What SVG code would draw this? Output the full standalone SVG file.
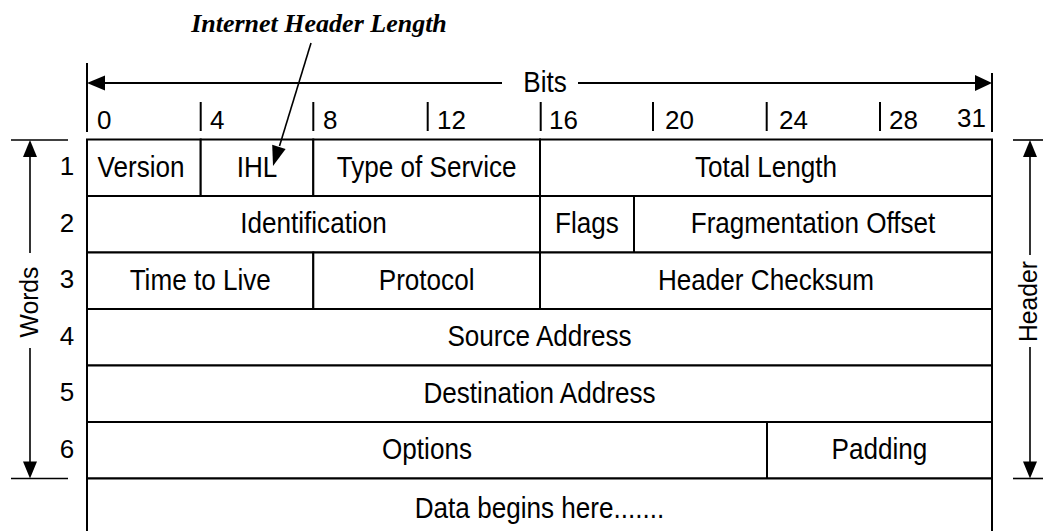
<svg xmlns="http://www.w3.org/2000/svg" width="1043" height="531" viewBox="0 0 1043 531">
<style>
.bg{fill:#fff}
.cell{fill:#fff;stroke:#000;stroke-width:2}
.t{font-family:"Liberation Sans",Arial,sans-serif;font-size:29px;fill:#000;text-anchor:middle}
.b{font-family:"Liberation Sans",Arial,sans-serif;font-size:26px;fill:#000;text-anchor:start}
.n{font-family:"Liberation Sans",Arial,sans-serif;font-size:26px;fill:#000;text-anchor:middle}
.ax{font-family:"Liberation Sans",Arial,sans-serif;font-size:26px;fill:#000;text-anchor:middle}
.title{font-family:"Liberation Serif","Times New Roman",serif;font-size:26px;font-weight:bold;font-style:italic;fill:#000;text-anchor:middle}
.ln{stroke:#000;stroke-width:2;fill:none}
.thin{stroke:#000;stroke-width:1.6;fill:none}
.ah{fill:#000;stroke:none}
</style>
<rect class="bg" x="0" y="0" width="1043" height="531"/>

<g id="title">
<text class="title" x="319" y="32">Internet Header Length</text>
</g>

<g id="bit-scale">
<line class="ln" x1="87" y1="63" x2="87" y2="132"/>
<line class="ln" x1="992" y1="73" x2="992" y2="132"/>
<g class="ticks">
<line class="ln" x1="200.7" y1="102" x2="200.7" y2="131"/>
<line class="ln" x1="313.3" y1="102" x2="313.3" y2="131"/>
<line class="ln" x1="427.7" y1="102" x2="427.7" y2="131"/>
<line class="ln" x1="540.7" y1="102" x2="540.7" y2="131"/>
<line class="ln" x1="653" y1="102" x2="653" y2="131"/>
<line class="ln" x1="766.7" y1="102" x2="766.7" y2="131"/>
<line class="ln" x1="880" y1="102" x2="880" y2="131"/>
</g>
<text class="b" x="97" y="128.5">0</text>
<text class="b" x="210" y="128.5">4</text>
<text class="b" x="323" y="128.5">8</text>
<text class="b" x="437" y="128.5">12</text>
<text class="b" x="549" y="128.5">16</text>
<text class="b" x="665" y="128.5">20</text>
<text class="b" x="779" y="128.5">24</text>
<text class="b" x="889" y="128.5">28</text>
<text class="b" x="957" y="127">31</text>
<text class="t" transform="translate(545,92) scale(0.9 1)">Bits</text>
</g>

<g id="row-numbers">
<text class="n" x="67" y="175">1</text>
<text class="n" x="67" y="232">2</text>
<text class="n" x="67" y="288">3</text>
<text class="n" x="67" y="345">4</text>
<text class="n" x="67" y="401">5</text>
<text class="n" x="67" y="458">6</text>
</g>

<g id="version"><rect class="cell" x="87" y="139.5" width="113.7" height="56.5"/><text class="t" transform="translate(141,176.5) scale(0.9 1)">Version</text></g>
<g id="ihl"><rect class="cell" x="200.7" y="139.5" width="112.6" height="56.5"/><text class="t" transform="translate(257,176.5) scale(0.9 1)">IHL</text></g>
<g id="type-of-service"><rect class="cell" x="313.3" y="139.5" width="226.7" height="56.5"/><text class="t" transform="translate(426.6,176.5) scale(0.9 1)">Type of Service</text></g>
<g id="total-length"><rect class="cell" x="540" y="139.5" width="452" height="56.5"/><text class="t" transform="translate(766,176.5) scale(0.9 1)">Total Length</text></g>

<g id="identification"><rect class="cell" x="87" y="196" width="453" height="56.5"/><text class="t" transform="translate(313.5,233) scale(0.9 1)">Identification</text></g>
<g id="flags"><rect class="cell" x="540" y="196" width="94" height="56.5"/><text class="t" transform="translate(587,233) scale(0.9 1)">Flags</text></g>
<g id="fragmentation-offset"><rect class="cell" x="634" y="196" width="358" height="56.5"/><text class="t" transform="translate(813,233) scale(0.9 1)">Fragmentation Offset</text></g>

<g id="time-to-live"><rect class="cell" x="87" y="252.5" width="226.3" height="56.5"/><text class="t" transform="translate(200.2,289.5) scale(0.9 1)">Time to Live</text></g>
<g id="protocol"><rect class="cell" x="313.3" y="252.5" width="226.7" height="56.5"/><text class="t" transform="translate(426.6,289.5) scale(0.9 1)">Protocol</text></g>
<g id="header-checksum"><rect class="cell" x="540" y="252.5" width="452" height="56.5"/><text class="t" transform="translate(766,289.5) scale(0.9 1)">Header Checksum</text></g>

<g id="source-address"><rect class="cell" x="87" y="309" width="905" height="56.5"/><text class="t" transform="translate(539.5,346) scale(0.9 1)">Source Address</text></g>

<g id="destination-address"><rect class="cell" x="87" y="365.5" width="905" height="56.5"/><text class="t" transform="translate(539.5,402.5) scale(0.9 1)">Destination Address</text></g>

<g id="options"><rect class="cell" x="87" y="422" width="680" height="56.5"/><text class="t" transform="translate(427,459) scale(0.9 1)">Options</text></g>
<g id="padding"><rect class="cell" x="767" y="422" width="225" height="56.5"/><text class="t" transform="translate(879.5,459) scale(0.9 1)">Padding</text></g>

<g id="data"><rect class="cell" x="87" y="478.5" width="905" height="70"/><text class="t" transform="translate(539.5,518) scale(0.9 1)">Data begins here.......</text></g>

<g id="words-axis">
<line class="thin" x1="11" y1="140" x2="68" y2="140"/>
<line class="thin" x1="11" y1="478.5" x2="68" y2="478.5"/>
<text class="ax" transform="translate(38,302) rotate(-90) scale(0.95 1)">Words</text>
</g>
<g id="header-axis">
<line class="thin" x1="1013" y1="140" x2="1043" y2="140"/>
<line class="thin" x1="1013" y1="478.5" x2="1043" y2="478.5"/>
<text class="ax" transform="translate(1037,301.5) rotate(-90) scale(0.95 1)">Header</text>
</g>

<g id="connectors">
<line class="ln" x1="100" y1="83" x2="502" y2="83"/>
<line class="ln" x1="578" y1="83" x2="980" y2="83"/>
<polygon class="ah" points="87,83 105,75.5 105,90.5"/>
<polygon class="ah" points="992,83 975,75 975,91"/>
<line class="thin" x1="30" y1="152" x2="30" y2="253"/>
<line class="thin" x1="30" y1="348" x2="30" y2="466"/>
<polygon class="ah" points="30,140 23,157 37,157"/>
<polygon class="ah" points="30,478.5 23,461.5 37,461.5"/>
<line class="thin" x1="1030" y1="152" x2="1030" y2="255"/>
<line class="thin" x1="1030" y1="347" x2="1030" y2="466"/>
<polygon class="ah" points="1030,140 1023,157 1037,157"/>
<polygon class="ah" points="1030,478.5 1023,461.5 1037,461.5"/>
<line class="thin" x1="311" y1="43" x2="279.5" y2="146"/>
<polygon class="ah" points="273,166 285.6,149 272.2,144.8"/>
</g>
</svg>
